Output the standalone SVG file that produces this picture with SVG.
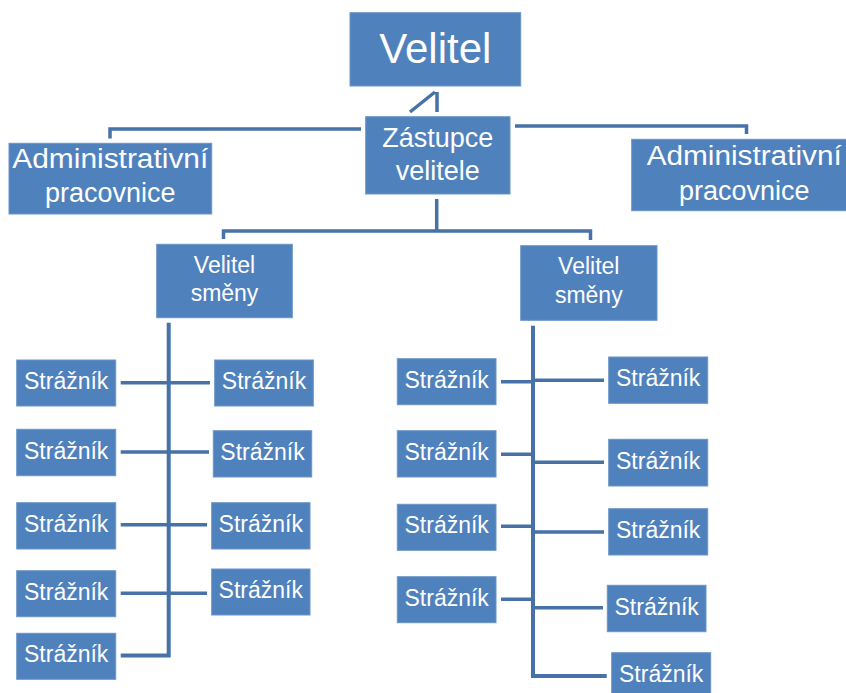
<svg xmlns="http://www.w3.org/2000/svg" width="846" height="693" viewBox="0 0 846 693">
<style>
.box{fill:#4F81BD;stroke:#6A94C8;stroke-width:1}
.t{fill:#FFFFFF;font-family:"Liberation Sans","Open Sans",Arial,sans-serif;text-anchor:middle}
.c{fill:none;stroke:#4672A8;stroke-width:3.5;stroke-linejoin:miter}
.s{font-size:23px}
</style>
<rect width="846" height="693" fill="#FFFFFF"/>
<g id="connectors">
<path class="c" d="M437,92 V112 M435,92 L410,112"/>
<path class="c" d="M361,129 H110 V138.5"/>
<path class="c" d="M515,126 H746.5 V134"/>
<path class="c" d="M436.7,199 V231"/>
<path class="c" d="M223.5,239 V231 H590.5 V240"/>
<path class="c" style="stroke-width:4" d="M168.7,322.7 V655.5 H120.7"/>
<path class="c" d="M120.7,382.7 H210 M120.7,452 H209 M120.7,524.7 H207 M120.7,593.3 H207"/>
<path class="c" style="stroke-width:4" d="M533,325.7 V676 H606.7"/>
<path class="c" d="M501,381.7 H533 M501,454.3 H533 M501,526.3 H533 M501,599.3 H533"/>
<path class="c" d="M533,380.3 H604 M533,462.3 H604 M533,532 H604 M533,607.7 H603"/>
</g>
<g id="velitel"><rect class="box" x="350" y="12.7" width="170.7" height="73.3"/><text class="t" x="435.3" y="63" font-size="42">Velitel</text></g>
<g id="zastupce"><rect class="box" x="365.7" y="116.7" width="144.3" height="77.3"/><text class="t" x="437.8" y="146.7" font-size="27">Zástupce</text><text class="t" x="437.8" y="180" font-size="27">velitele</text></g>
<g id="admin-left"><rect class="box" x="9" y="143.3" width="202.7" height="70.7"/><text class="t" x="110.3" y="168.3" font-size="27" textLength="196" lengthAdjust="spacingAndGlyphs">Administrativní</text><text class="t" x="110.3" y="201.7" font-size="27">pracovnice</text></g>
<g id="admin-right"><rect class="box" x="631.7" y="139.3" width="224" height="71.4"/><text class="t" x="744.2" y="165" font-size="27" textLength="195" lengthAdjust="spacingAndGlyphs">Administrativní</text><text class="t" x="744.2" y="200" font-size="27">pracovnice</text></g>
<g id="smena-left"><rect class="box" x="156.7" y="244.3" width="135.6" height="73.4"/><text class="t" x="224.5" y="273.3" font-size="23">Velitel</text><text class="t" x="224.5" y="301" font-size="23">směny</text></g>
<g id="smena-right"><rect class="box" x="520.7" y="245.7" width="136.3" height="74.6"/><text class="t" x="588.8" y="274.3" font-size="23">Velitel</text><text class="t" x="588.8" y="302.7" font-size="23">směny</text></g>
<g id="s-l1"><rect class="box" x="16.7" y="360" width="99" height="46"/><text class="t s" x="66.2" y="389">Strážník</text></g>
<g id="s-l2"><rect class="box" x="16.7" y="429.3" width="99" height="46.4"/><text class="t s" x="66.2" y="458.5">Strážník</text></g>
<g id="s-l3"><rect class="box" x="16.7" y="502.7" width="99" height="46.3"/><text class="t s" x="66.2" y="531.8">Strážník</text></g>
<g id="s-l4"><rect class="box" x="16.7" y="570.7" width="99" height="46"/><text class="t s" x="66.2" y="599.7">Strážník</text></g>
<g id="s-l5"><rect class="box" x="16.7" y="633.3" width="99" height="46"/><text class="t s" x="66.2" y="662.3">Strážník</text></g>
<g id="s-l6"><rect class="box" x="214.7" y="360" width="98.6" height="46"/><text class="t s" x="264" y="389">Strážník</text></g>
<g id="s-l7"><rect class="box" x="213.3" y="430.7" width="98.4" height="46.3"/><text class="t s" x="262.5" y="459.8">Strážník</text></g>
<g id="s-l8"><rect class="box" x="211.7" y="502.7" width="98.3" height="46.3"/><text class="t s" x="260.8" y="531.8">Strážník</text></g>
<g id="s-l9"><rect class="box" x="211.7" y="569" width="98.3" height="46"/><text class="t s" x="260.8" y="598">Strážník</text></g>
<g id="s-r1"><rect class="box" x="397.3" y="358.7" width="98.7" height="46"/><text class="t s" x="446.7" y="387.7">Strážník</text></g>
<g id="s-r2"><rect class="box" x="397.3" y="430.7" width="98.7" height="46.3"/><text class="t s" x="446.7" y="459.8">Strážník</text></g>
<g id="s-r3"><rect class="box" x="397.3" y="504.3" width="98.7" height="46"/><text class="t s" x="446.7" y="533.3">Strážník</text></g>
<g id="s-r4"><rect class="box" x="397.3" y="576.7" width="98.7" height="46"/><text class="t s" x="446.7" y="605.7">Strážník</text></g>
<g id="s-r5"><rect class="box" x="608.7" y="357" width="99" height="46.3"/><text class="t s" x="658.2" y="386.2">Strážník</text></g>
<g id="s-r6"><rect class="box" x="608.7" y="439.3" width="99" height="46.7"/><text class="t s" x="658.2" y="468.7">Strážník</text></g>
<g id="s-r7"><rect class="box" x="608.7" y="508.7" width="99" height="46.3"/><text class="t s" x="658.2" y="537.9">Strážník</text></g>
<g id="s-r8"><rect class="box" x="607.3" y="585.3" width="98.7" height="46.4"/><text class="t s" x="656.7" y="614.5">Strážník</text></g>
<g id="s-r9"><rect class="box" x="611.7" y="652.7" width="99" height="46"/><text class="t s" x="661.2" y="681.7">Strážník</text></g>
</svg>
